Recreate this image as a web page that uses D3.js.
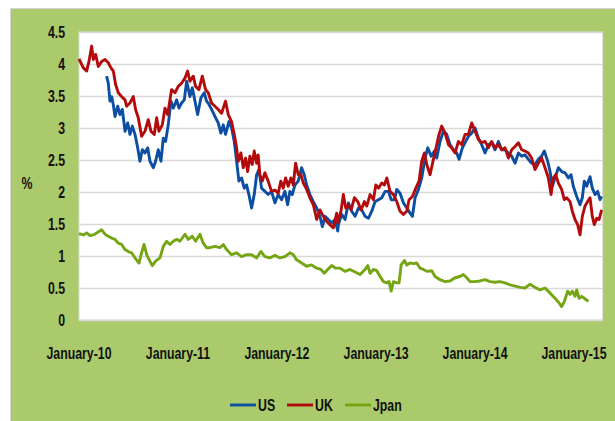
<!DOCTYPE html>
<html>
<head>
<meta charset="utf-8">
<script src="https://d3js.org/d3.v7.min.js"></script>
<style>
  body { margin: 0; background: #fff; }
  text { font-family: "Liberation Sans", Arial, sans-serif; font-weight: bold; fill: #111; font-size: 16px; }
</style>
</head>
<body>
<svg id="chart" width="615" height="421"></svg>
<script>
// dates are decimal years
var ukDates = [2010.000,2010.044,2010.077,2010.101,2010.128,2010.145,2010.168,2010.195,2010.229,2010.263,2010.296,2010.323,2010.347,2010.370,2010.397,2010.431,2010.465,2010.481,2010.515,2010.549,2010.572,2010.599,2010.633,2010.667,2010.700,2010.727,2010.761,2010.785,2010.808,2010.842,2010.869,2010.896,2010.936,2010.970,2011.003,2011.037,2011.071,2011.098,2011.121,2011.155,2011.178,2011.212,2011.246,2011.279,2011.306,2011.340,2011.374,2011.407,2011.441,2011.481,2011.508,2011.542,2011.569,2011.593,2011.609,2011.636,2011.660,2011.684,2011.704,2011.727,2011.751,2011.771,2011.795,2011.811,2011.828,2011.852,2011.879,2011.912,2011.946,2011.980,2012.013,2012.040,2012.064,2012.088,2012.114,2012.141,2012.165,2012.189,2012.215,2012.242,2012.266,2012.300,2012.333,2012.367,2012.401,2012.434,2012.468,2012.502,2012.535,2012.569,2012.603,2012.613,2012.646,2012.670,2012.694,2012.721,2012.748,2012.781,2012.815,2012.849,2012.882,2012.906,2012.939,2012.973,2012.997,2013.024,2013.057,2013.084,2013.108,2013.141,2013.175,2013.209,2013.242,2013.276,2013.310,2013.333,2013.367,2013.401,2013.434,2013.461,2013.488,2013.512,2013.545,2013.579,2013.613,2013.636,2013.663,2013.697,2013.731,2013.764,2013.798,2013.832,2013.865,2013.899,2013.933,2013.966,2014.000,2014.034,2014.067,2014.101,2014.135,2014.168,2014.202,2014.236,2014.269,2014.303,2014.337,2014.370,2014.404,2014.438,2014.471,2014.505,2014.539,2014.572,2014.606,2014.640,2014.673,2014.707,2014.741,2014.768,2014.791,2014.815,2014.842,2014.875,2014.902,2014.926,2014.960,2014.983,2015.010,2015.037,2015.061,2015.084,2015.111,2015.138,2015.162,2015.185,2015.205,2015.229,2015.253,2015.279];
var ukValues = [4.08,3.94,3.89,4.04,4.28,4.07,4.15,3.96,4.04,4.07,4.02,3.94,3.89,3.68,3.55,3.49,3.44,3.34,3.39,3.49,3.29,3.16,2.87,2.95,3.13,2.95,2.90,3.16,2.95,3.05,3.31,3.21,3.60,3.55,3.65,3.70,3.78,3.89,3.73,3.81,3.65,3.60,3.81,3.60,3.55,3.39,3.34,3.29,3.23,3.42,3.21,3.10,2.90,2.69,2.48,2.61,2.38,2.53,2.32,2.56,2.43,2.64,2.45,2.58,2.27,2.17,2.30,2.17,2.01,2.03,1.98,2.17,2.06,2.22,2.09,2.22,2.11,2.45,2.27,2.27,2.14,2.04,1.91,1.80,1.57,1.72,1.62,1.54,1.49,1.44,1.67,1.52,1.70,1.96,1.75,1.80,1.72,1.91,1.85,1.72,1.85,1.78,1.96,1.88,2.11,2.06,2.14,2.11,2.22,2.01,1.96,1.85,1.70,1.65,1.70,1.88,1.93,2.06,2.17,2.48,2.61,2.43,2.27,2.51,2.74,2.90,3.03,2.92,2.74,2.69,2.61,2.79,2.74,2.90,2.90,3.08,2.95,2.82,2.77,2.79,2.69,2.79,2.69,2.74,2.66,2.69,2.53,2.66,2.71,2.77,2.66,2.64,2.61,2.53,2.35,2.45,2.53,2.38,2.22,1.96,2.22,2.27,2.14,2.04,1.88,1.91,1.85,1.70,1.57,1.49,1.33,1.62,1.78,1.85,1.91,1.62,1.49,1.59,1.57,1.72];

var usDates = [2010.279,2010.296,2010.313,2010.330,2010.347,2010.364,2010.391,2010.414,2010.438,2010.465,2010.492,2010.515,2010.539,2010.566,2010.593,2010.616,2010.640,2010.667,2010.694,2010.717,2010.751,2010.774,2010.801,2010.828,2010.852,2010.875,2010.902,2010.929,2010.953,2010.987,2011.010,2011.037,2011.064,2011.088,2011.121,2011.145,2011.172,2011.199,2011.232,2011.266,2011.289,2011.306,2011.340,2011.374,2011.407,2011.434,2011.458,2011.481,2011.515,2011.542,2011.569,2011.593,2011.616,2011.643,2011.670,2011.694,2011.717,2011.744,2011.771,2011.795,2011.818,2011.845,2011.879,2011.912,2011.946,2011.980,2012.013,2012.047,2012.081,2012.108,2012.131,2012.155,2012.182,2012.215,2012.249,2012.276,2012.300,2012.333,2012.367,2012.401,2012.434,2012.458,2012.485,2012.519,2012.552,2012.586,2012.613,2012.620,2012.653,2012.687,2012.721,2012.754,2012.788,2012.822,2012.855,2012.889,2012.923,2012.956,2012.990,2013.024,2013.057,2013.091,2013.125,2013.152,2013.185,2013.209,2013.242,2013.276,2013.310,2013.343,2013.367,2013.394,2013.428,2013.461,2013.495,2013.522,2013.556,2013.589,2013.613,2013.646,2013.680,2013.714,2013.747,2013.781,2013.815,2013.838,2013.872,2013.906,2013.933,2013.966,2014.000,2014.034,2014.067,2014.101,2014.135,2014.168,2014.202,2014.236,2014.269,2014.303,2014.337,2014.370,2014.404,2014.438,2014.471,2014.505,2014.539,2014.572,2014.606,2014.640,2014.673,2014.700,2014.734,2014.758,2014.781,2014.808,2014.842,2014.875,2014.909,2014.943,2014.970,2014.993,2015.027,2015.061,2015.084,2015.104,2015.128,2015.162,2015.185,2015.212,2015.239,2015.263,2015.279];
var usValues = [3.81,3.70,3.42,3.49,3.36,3.18,3.34,3.21,3.29,2.95,3.08,2.90,3.03,2.90,2.69,2.48,2.66,2.61,2.69,2.48,2.38,2.48,2.66,2.48,2.84,2.79,3.05,3.42,3.31,3.44,3.31,3.39,3.44,3.73,3.49,3.63,3.42,3.21,3.47,3.55,3.42,3.39,3.29,3.18,3.08,2.92,3.05,2.90,3.10,3.00,2.79,2.48,2.17,2.22,2.06,2.11,1.96,1.75,1.96,2.27,2.35,2.06,2.01,1.96,2.01,1.83,1.96,1.88,2.01,1.80,2.01,1.96,2.11,2.17,2.38,2.27,2.11,1.96,1.85,1.75,1.62,1.46,1.62,1.57,1.52,1.57,1.39,1.49,1.65,1.57,1.83,1.70,1.62,1.75,1.72,1.62,1.59,1.70,1.85,1.88,1.91,2.01,2.01,1.88,1.88,2.04,1.98,1.83,1.75,1.67,1.62,1.91,2.04,2.22,2.53,2.69,2.56,2.64,2.53,2.79,2.95,2.90,2.74,2.66,2.61,2.51,2.69,2.79,2.87,2.92,3.00,2.84,2.74,2.61,2.74,2.77,2.66,2.79,2.66,2.66,2.61,2.56,2.45,2.61,2.56,2.58,2.51,2.45,2.43,2.51,2.56,2.64,2.48,2.32,2.09,2.22,2.38,2.32,2.30,2.22,2.27,2.09,1.93,1.80,1.91,2.17,2.09,2.24,2.06,1.96,2.01,1.88,1.93];

var jpDates = [2010.000,2010.044,2010.077,2010.111,2010.145,2010.178,2010.229,2010.263,2010.296,2010.330,2010.364,2010.397,2010.431,2010.465,2010.498,2010.532,2010.566,2010.606,2010.633,2010.657,2010.684,2010.717,2010.741,2010.774,2010.818,2010.852,2010.886,2010.919,2010.953,2010.987,2011.020,2011.071,2011.104,2011.145,2011.178,2011.222,2011.256,2011.289,2011.323,2011.374,2011.424,2011.458,2011.492,2011.542,2011.593,2011.643,2011.694,2011.744,2011.795,2011.838,2011.879,2011.929,2011.980,2012.030,2012.081,2012.131,2012.165,2012.199,2012.249,2012.300,2012.350,2012.401,2012.444,2012.478,2012.512,2012.552,2012.593,2012.636,2012.687,2012.737,2012.788,2012.838,2012.889,2012.916,2012.939,2012.973,2013.007,2013.040,2013.074,2013.108,2013.131,2013.152,2013.175,2013.209,2013.232,2013.253,2013.286,2013.310,2013.343,2013.377,2013.411,2013.444,2013.478,2013.512,2013.562,2013.596,2013.646,2013.697,2013.747,2013.798,2013.848,2013.882,2013.916,2013.949,2014.000,2014.051,2014.101,2014.152,2014.202,2014.253,2014.303,2014.354,2014.404,2014.455,2014.505,2014.556,2014.606,2014.657,2014.707,2014.758,2014.808,2014.848,2014.875,2014.902,2014.936,2014.960,2014.983,2015.010,2015.027,2015.051,2015.077,2015.104,2015.145];
var jpValues = [1.35,1.33,1.36,1.32,1.33,1.36,1.41,1.34,1.31,1.28,1.26,1.20,1.18,1.10,1.07,1.05,0.97,0.89,1.05,1.18,1.02,0.92,0.85,0.92,0.97,1.15,1.23,1.18,1.23,1.26,1.23,1.34,1.26,1.31,1.23,1.34,1.20,1.13,1.13,1.15,1.13,1.18,1.10,1.02,1.05,0.99,1.02,1.02,0.97,1.07,0.99,0.97,1.01,0.97,0.99,1.05,1.02,0.94,0.89,0.84,0.86,0.81,0.79,0.73,0.79,0.85,0.81,0.81,0.76,0.79,0.75,0.71,0.79,0.85,0.73,0.79,0.77,0.68,0.60,0.58,0.60,0.45,0.60,0.58,0.58,0.86,0.93,0.86,0.89,0.88,0.89,0.81,0.79,0.76,0.77,0.68,0.63,0.60,0.61,0.66,0.68,0.71,0.66,0.60,0.60,0.61,0.63,0.60,0.59,0.60,0.58,0.55,0.53,0.51,0.50,0.56,0.51,0.47,0.50,0.42,0.34,0.27,0.21,0.29,0.45,0.40,0.45,0.37,0.47,0.34,0.37,0.34,0.29];

var yTicks = [0, 0.5, 1, 1.5, 2, 2.5, 3, 3.5, 4, 4.5];
var xTickYears = [2010, 2011, 2012, 2013, 2014, 2015];
var seriesNames = ["US", "UK", "Jpan"];
var seriesColors = ["#0b4ea2", "#b30b0b", "#76a514"];

// decimal year -> Date
function toDate(yr) {
  var y0 = Math.floor(yr);
  var start = Date.UTC(y0, 0, 1), end = Date.UTC(y0 + 1, 0, 1);
  return new Date(start + (yr - y0) * (end - start));
}

var svg = d3.select("#chart");

var plotLeft = 79, plotRight = 602.7, plotTop = 32, plotBottom = 320;
var squeeze = 0.77;  // narrow type like the original

// green frame
svg.append("rect")
    .attr("x", 10.5).attr("y", 8.5)
    .attr("width", 620).attr("height", 430)
    .style("fill", "#abca6b")
    .style("stroke", "#d4d4d4");

// plot area
svg.append("rect")
    .attr("x", plotLeft).attr("y", plotTop)
    .attr("width", plotRight - plotLeft).attr("height", plotBottom - plotTop)
    .style("fill", "#fff")
    .style("stroke", "#d9d9d9");

var x = d3.scaleUtc()
    .domain([toDate(2010), toDate(2015.29)])
    .range([plotLeft, plotRight]);

var y = d3.scaleLinear()
    .domain([0, 4.5])
    .range([plotBottom, plotTop]);

// gridlines
svg.append("g")
    .selectAll("line")
    .data(yTicks).enter()
    .append("line")
    .attr("x1", plotLeft).attr("x2", plotRight)
    .attr("y1", d => Math.round(y(d)) + 0.5)
    .attr("y2", d => Math.round(y(d)) + 0.5)
    .style("stroke", "#d9d9d9")
    .style("stroke-width", 1.5);

// y labels
svg.append("g")
    .selectAll("text")
    .data(yTicks).enter()
    .append("text")
    .attr("transform", d => "translate(65," + y(d) + ") scale(" + squeeze + ",1)")
    .attr("dy", "0.36em")
    .attr("text-anchor", "end")
    .text(d => d);

svg.append("text")
    .attr("transform", "translate(27,183) scale(" + squeeze + ",1)")
    .attr("dy", "0.36em")
    .attr("text-anchor", "middle")
    .text("%");

// x labels
var fmt = d3.utcFormat("%B-%y");
svg.append("g")
    .selectAll("text")
    .data(xTickYears).enter()
    .append("text")
    .attr("transform", d => "translate(" + x(toDate(d)) + ",359) scale(" + squeeze + ",1)")
    .attr("text-anchor", "middle")
    .text(d => fmt(toDate(d)));

var line = d3.line()
    .x(d => x(toDate(d[0])))
    .y(d => y(d[1]));

var series = [d3.zip(usDates, usValues), d3.zip(ukDates, ukValues), d3.zip(jpDates, jpValues)];

// Japan first, then US, UK on top
[2, 0, 1].forEach(function(i) {
  svg.append("path")
      .datum(series[i])
      .attr("d", line)
      .style("fill", "none")
      .style("stroke", seriesColors[i])
      .style("stroke-width", 2.9)
      .style("stroke-linejoin", "round");
});

// legend
var legendX = [230, 287, 345];
var legend = svg.selectAll(".legend")
    .data(seriesNames).enter()
    .append("g")
    .attr("class", "legend")
    .attr("transform", (d, i) => "translate(" + legendX[i] + ",405)");

legend.append("line")
    .attr("x1", 0).attr("x2", 26)
    .style("stroke", (d, i) => seriesColors[i])
    .style("stroke-width", 2.9);

legend.append("text")
    .attr("transform", "translate(28,0) scale(" + squeeze + ",1)")
    .attr("dy", "0.36em")
    .text(d => d);
</script>
</body>
</html>
